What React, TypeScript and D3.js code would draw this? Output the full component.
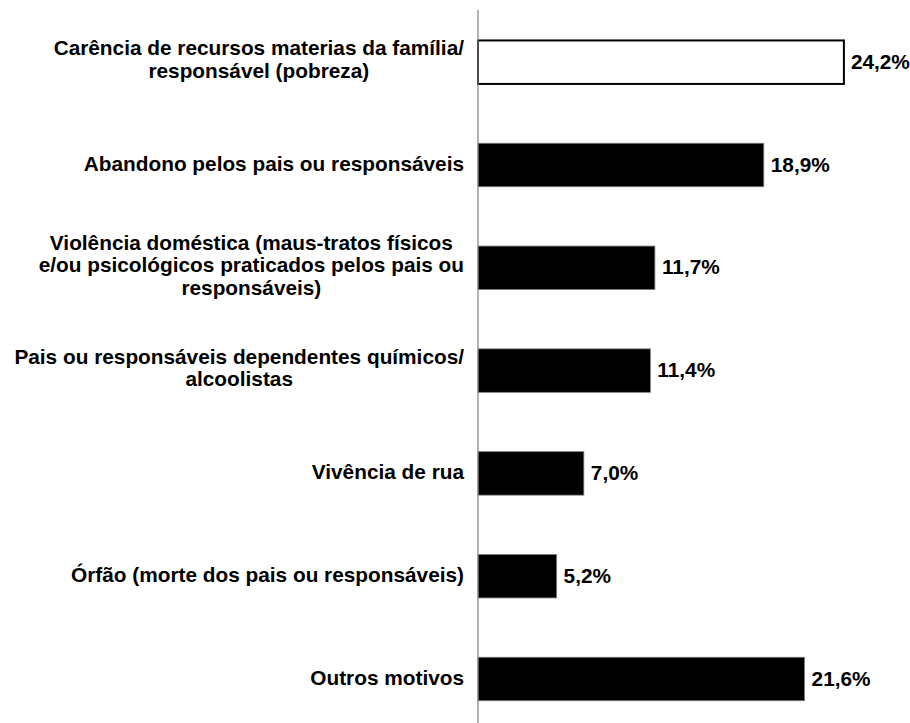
import React, { useEffect, useRef } from "react";
import * as d3 from "d3";

const categories: string[][] = [
  ["Carência de recursos materias da família/", "responsável (pobreza)"],
  ["Abandono pelos pais ou responsáveis"],
  ["Violência doméstica (maus-tratos físicos", "e/ou psicológicos praticados pelos pais ou", "responsáveis)"],
  ["Pais ou responsáveis dependentes químicos/", "alcoolistas"],
  ["Vivência de rua"],
  ["Órfão (morte dos pais ou responsáveis)"],
  ["Outros motivos"],
];
const values: number[] = [24.2, 18.9, 11.7, 11.4, 7.0, 5.2, 21.6];
const valueLabels: string[] = ["24,2%", "18,9%", "11,7%", "11,4%", "7,0%", "5,2%", "21,6%"];
const highlighted: boolean[] = [true, false, false, false, false, false, false];

const W = 910;
const H = 723;
const FONT = "'Liberation Sans', Arial, sans-serif";
const FS = 20.8;

export default function App() {
  const ref = useRef<SVGSVGElement | null>(null);

  useEffect(() => {
    const svg = d3.select(ref.current);
    svg.selectAll("*").remove();

    const x0 = 478;
    const x = d3.scaleLinear().domain([0, 25]).range([x0, x0 + 25 * 15.12]);
    const idx = values.map((_, i) => i);
    const y = d3
      .scaleBand<number>()
      .domain(idx)
      .range([10.8, 730.4])
      .paddingInner(0.577)
      .paddingOuter(0.2885);

    const g = svg.append("g");

    // bars
    g.selectAll("rect.bar")
      .data(idx)
      .join("rect")
      .attr("class", "bar")
      .attr("x", x(0))
      .attr("y", (i) => y(i)!)
      .attr("width", (i) => x(values[i]) - x(0))
      .attr("height", y.bandwidth())
      .attr("fill", (i) => (highlighted[i] ? "#ffffff" : "#000000"))
      .attr("stroke", (i) => (highlighted[i] ? "#000000" : "#7f7f7f"))
      .attr("stroke-width", (i) => (highlighted[i] ? 2 : 0.8));

    // axis line
    g.append("line")
      .attr("x1", x(0))
      .attr("x2", x(0))
      .attr("y1", 10)
      .attr("y2", H)
      .attr("stroke", "#808080")
      .attr("stroke-width", 1.2);

    // value labels
    g.selectAll("text.val")
      .data(idx)
      .join("text")
      .attr("class", "val")
      .attr("x", (i) => x(values[i]) + 7)
      .attr("y", (i) => y(i)! + y.bandwidth() / 2 + 6.5)
      .attr("font-family", FONT)
      .attr("font-size", FS)
      .attr("font-weight", "bold")
      .attr("fill", "#000")
      .text((i) => valueLabels[i]);

    // category labels (wrapped, centered block, right-aligned to axis)
    const rightEdge = 464;
    const lineH = 22.5;
    idx.forEach((i) => {
      const lines = categories[i];
      const cy = y(i)! + y.bandwidth() / 2;
      const t = g
        .append("text")
        .attr("font-family", FONT)
        .attr("font-size", FS)
        .attr("font-weight", "bold")
        .attr("fill", "#000")
        .attr("text-anchor", "middle");
      const spans = lines.map((ln, k) =>
        t
          .append("tspan")
          .attr("y", cy - ((lines.length - 1) * lineH) / 2 + k * lineH + (lines.length > 1 ? 4.5 : 6))
          .text(ln)
      );
      const maxW = d3.max(spans, (s) => (s.node() as SVGTSpanElement).getComputedTextLength()) || 0;
      spans.forEach((s) => s.attr("x", rightEdge - maxW / 2));
    });
  }, []);

  return (
    <svg
      ref={ref}
      width={W}
      height={H}
      style={{ position: "absolute", left: 0, top: 0, background: "#fff" }}
    />
  );
}
